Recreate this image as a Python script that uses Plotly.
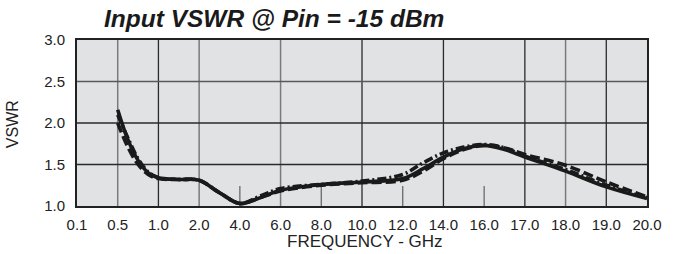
import plotly.graph_objects as go

tick_labels = ["0.1", "0.5", "1.0", "2.0", "4.0", "6.0", "8.0", "10.0", "12.0",
               "14.0", "16.0", "17.0", "18.0", "19.0", "20.0"]

# positions on the category scale (index of tick label, fractional = between labels)
x_pos = [1.0, 1.25, 1.5, 1.75, 2.0, 2.5, 3.0, 3.5, 4.0, 4.5, 5.0, 6.0, 7.0,
         8.0, 8.5, 9.0, 9.5, 10.0, 10.5, 11.0, 12.0, 13.0, 14.0]

vswr_solid = [2.16, 1.80, 1.55, 1.40, 1.34, 1.32, 1.31, 1.16, 1.03, 1.10, 1.19,
              1.26, 1.29, 1.33, 1.45, 1.59, 1.69, 1.73, 1.68, 1.59, 1.42, 1.23, 1.09]
vswr_dash = [2.00, 1.71, 1.50, 1.38, 1.33, 1.32, 1.31, 1.16, 1.03, 1.10, 1.18,
             1.25, 1.28, 1.31, 1.42, 1.57, 1.68, 1.73, 1.70, 1.62, 1.49, 1.29, 1.11]
vswr_dashdot = [2.10, 1.82, 1.57, 1.41, 1.34, 1.32, 1.31, 1.16, 1.03, 1.12, 1.21,
                1.26, 1.30, 1.38, 1.52, 1.64, 1.71, 1.74, 1.70, 1.60, 1.44, 1.25, 1.10]

y_ticks = [1.0, 1.5, 2.0, 2.5, 3.0]

grid_dark_x = ["1.0", "10.0", "14.0", "17.0", "19.0"]
grid_light_x = ["0.5", "2.0", "6.0", "18.0"]
short_tick_x = ["4.0", "8.0", "12.0", "16.0"]
grid_dark_y = [1.5, 2.0]
grid_light_y = [2.5]

fig = go.Figure()

shapes = []
for lab in grid_light_x:
    i = tick_labels.index(lab)
    shapes.append(dict(type="line", xref="x", yref="y", x0=i, x1=i, y0=1.0, y1=3.0,
                       line=dict(color="#7a7a7a", width=1.5), layer="below"))
for lab in grid_dark_x:
    i = tick_labels.index(lab)
    shapes.append(dict(type="line", xref="x", yref="y", x0=i, x1=i, y0=1.0, y1=3.0,
                       line=dict(color="#2a2a2a", width=1.3), layer="below"))
for lab in short_tick_x:
    i = tick_labels.index(lab)
    shapes.append(dict(type="line", xref="x", yref="y", x0=i, x1=i, y0=1.0, y1=1.24,
                       line=dict(color="#6a6a6a", width=1.3), layer="below"))
for v in grid_light_y:
    shapes.append(dict(type="line", xref="x", yref="y", x0=0, x1=len(tick_labels) - 1,
                       y0=v, y1=v, line=dict(color="#5a5a5a", width=1.3), layer="below"))
for v in grid_dark_y:
    shapes.append(dict(type="line", xref="x", yref="y", x0=0, x1=len(tick_labels) - 1,
                       y0=v, y1=v, line=dict(color="#2a2a2a", width=1.3), layer="below"))

for ys, dash in [(vswr_dash, "10px,4px"), (vswr_dashdot, "9px,3px,2px,3px"), (vswr_solid, "solid")]:
    fig.add_trace(go.Scatter(x=x_pos, y=ys, mode="lines",
                             line=dict(color="#1a1a1a", width=3.6, dash=dash, shape="spline", smoothing=1.0),
                             showlegend=False, hoverinfo="skip"))

fig.update_layout(
    width=674, height=254,
    margin=dict(l=77, r=16, t=40, b=48),
    paper_bgcolor="white",
    plot_bgcolor="#e1e2e4",
    shapes=shapes,
    font=dict(family="Liberation Sans, Arial, sans-serif", color="#222", size=15),
    annotations=[
        dict(text="<b><i>Input VSWR @ Pin = -15 dBm</i></b>", xref="paper", yref="paper",
             x=0.043, y=1.0, yshift=6, xanchor="left", yanchor="bottom", showarrow=False,
             font=dict(size=24.5, color="#1a1a1a")),
        dict(text="FREQUENCY - GHz", xref="paper", yref="paper", x=0.505, y=0.0, yshift=-24,
             xanchor="center", yanchor="top", showarrow=False, font=dict(size=17, color="#222")),
        dict(text="VSWR", xref="paper", yref="paper", x=-0.112, y=0.494, textangle=-90,
             xanchor="center", yanchor="middle", showarrow=False, font=dict(size=16, color="#222")),
    ],
)
fig.update_xaxes(range=[0, len(tick_labels) - 1], tickmode="array",
                 tickvals=list(range(len(tick_labels))), ticktext=tick_labels,
                 showgrid=False, zeroline=False, showline=True, linecolor="#222", linewidth=1.8,
                 mirror=True, ticks="outside", ticklen=4, tickcolor="rgba(0,0,0,0)",
                 tickfont=dict(size=15))
fig.update_yaxes(range=[1.0, 3.0], tickmode="array", tickvals=y_ticks,
                 ticktext=[f"{v:.1f}" for v in y_ticks],
                 showgrid=False, zeroline=False, showline=True, linecolor="#222", linewidth=1.8,
                 mirror=True, ticks="outside", ticklen=7, tickcolor="rgba(0,0,0,0)",
                 tickfont=dict(size=15))

fig.write_html("out.html", config={"displayModeBar": False},
               post_script="document.body.style.margin='0px';document.body.style.overflow='hidden';")
